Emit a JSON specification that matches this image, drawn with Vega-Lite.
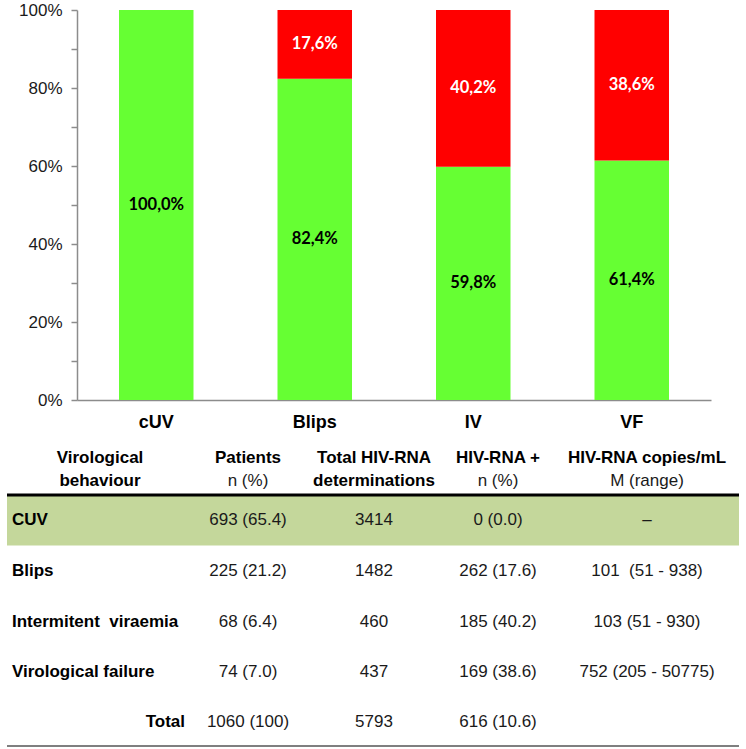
{
  "$schema": "https://vega.github.io/schema/vega-lite/v6.json",
  "autosize": "none",
  "padding": {"left": 77, "top": 10, "right": 0, "bottom": 0},
  "width": 669,
  "height": 739,
  "background": "white",
  "config": {"view": {"stroke": null}, "font": "Liberation Sans"},
  "datasets": {
    "bars": [
      {"cat": "cUV", "status": "negative", "pct": 100.0, "label": "100,0%"},
      {"cat": "Blips", "status": "negative", "pct": 82.4, "label": "82,4%"},
      {"cat": "Blips", "status": "positive", "pct": 17.6, "label": "17,6%"},
      {"cat": "IV", "status": "negative", "pct": 59.8, "label": "59,8%"},
      {"cat": "IV", "status": "positive", "pct": 40.2, "label": "40,2%"},
      {"cat": "VF", "status": "negative", "pct": 61.4, "label": "61,4%"},
      {"cat": "VF", "status": "positive", "pct": 38.6, "label": "38,6%"}
    ],
    "header": [
      {"col": 1, "row": 0, "text": "Virological"},
      {"col": 1, "row": 1, "text": "behaviour"},
      {"col": 2, "row": 0, "text": "Patients"},
      {"col": 3, "row": 0, "text": "Total HIV-RNA"},
      {"col": 3, "row": 1, "text": "determinations"},
      {"col": 4, "row": 0, "text": "HIV-RNA +"},
      {"col": 5, "row": 0, "text": "HIV-RNA copies/mL"}
    ],
    "subheader": [
      {"col": 2, "row": 1, "text": "n (%)"},
      {"col": 4, "row": 1, "text": "n (%)"},
      {"col": 5, "row": 1, "text": "M (range)"}
    ],
    "rowlabels": [
      {"col": 0, "row": 3, "text": "CUV"},
      {"col": 0, "row": 4, "text": "Blips"},
      {"col": 0, "row": 5, "text": "Intermitent\u00a0 viraemia"},
      {"col": 0, "row": 6, "text": "Virological failure"}
    ],
    "totallabel": [
      {"col": 2, "row": 7, "text": "Total"}
    ],
    "cells": [
      {"col": 2, "row": 3, "text": "693 (65.4)"},
      {"col": 3, "row": 3, "text": "3414"},
      {"col": 4, "row": 3, "text": "0 (0.0)"},
      {"col": 5, "row": 3, "text": "–"},
      {"col": 2, "row": 4, "text": "225 (21.2)"},
      {"col": 3, "row": 4, "text": "1482"},
      {"col": 4, "row": 4, "text": "262 (17.6)"},
      {"col": 5, "row": 4, "text": "101\u00a0 (51 - 938)"},
      {"col": 2, "row": 5, "text": "68 (6.4)"},
      {"col": 3, "row": 5, "text": "460"},
      {"col": 4, "row": 5, "text": "185 (40.2)"},
      {"col": 5, "row": 5, "text": "103 (51 - 930)"},
      {"col": 2, "row": 6, "text": "74 (7.0)"},
      {"col": 3, "row": 6, "text": "437"},
      {"col": 4, "row": 6, "text": "169 (38.6)"},
      {"col": 5, "row": 6, "text": "752 (205 - 50775)"},
      {"col": 2, "row": 7, "text": "1060 (100)"},
      {"col": 3, "row": 7, "text": "5793"},
      {"col": 4, "row": 7, "text": "616 (10.6)"}
    ]
  },
  "layer": [
    {
      "data": {"name": "bars"},
      "encoding": {
        "x": {
          "field": "cat",
          "type": "nominal",
          "sort": ["cUV", "Blips", "IV", "VF"],
          "scale": {"domain": ["cUV", "Blips", "IV", "VF"], "range": [0, 634], "paddingInner": 0.53, "paddingOuter": 0.265},
          "axis": {
            "title": null,
            "orient": "bottom",
            "offset": -349,
            "ticks": false,
            "domainColor": "#8c8c8c",
            "domainWidth": 1.5,
            "labelFontSize": 18,
            "labelFontWeight": "bold",
            "labelColor": "#000000",
            "labelPadding": 13,
            "labelAngle": 0
          }
        },
        "y": {
          "field": "pct",
          "type": "quantitative",
          "scale": {"domain": [0, 100], "range": [390, 0], "nice": false},
          "axis": {
            "title": null,
            "orient": "left",
            "values": [0, 10, 20, 30, 40, 50, 60, 70, 80, 90, 100],
            "labelExpr": "datum.value % 20 === 0 ? datum.value + '%' : ''",
            "tickSize": 6,
            "tickColor": "#8c8c8c",
            "tickWidth": 1.5,
            "domainColor": "#8c8c8c",
            "domainWidth": 1.5,
            "labelFontSize": 17,
            "labelColor": "#1a1a1a",
            "labelPadding": 9,
            "labelOverlap": false,
            "grid": false
          }
        }
      },
      "layer": [
        {
          "mark": {"type": "bar"},
          "encoding": {
            "y": {
              "field": "pct",
              "type": "quantitative",
              "stack": "zero",
              "scale": {"domain": [0, 100], "range": [390, 0], "nice": false},
              "axis": {
                "title": null,
                "orient": "left",
                "values": [0, 10, 20, 30, 40, 50, 60, 70, 80, 90, 100],
                "labelExpr": "datum.value % 20 === 0 ? datum.value + '%' : ''",
                "tickSize": 6,
                "tickColor": "#8c8c8c",
                "tickWidth": 1.5,
                "domainColor": "#8c8c8c",
                "domainWidth": 1.5,
                "labelFontSize": 17,
                "labelColor": "#1a1a1a",
                "labelPadding": 9,
                "labelOverlap": false,
                "grid": false
              }
            },
            "color": {
              "field": "status",
              "type": "nominal",
              "scale": {"domain": ["negative", "positive"], "range": ["#66ff33", "#ff0000"]},
              "legend": null
            },
            "order": {"field": "status", "sort": "ascending"}
          }
        },
        {
          "transform": [
            {"stack": "pct", "groupby": ["cat"], "sort": [{"field": "status", "order": "ascending"}], "as": ["y0", "y1"]},
            {"fold": ["y0", "y1"], "as": ["edge", "v"]},
            {"aggregate": [{"op": "mean", "field": "v", "as": "mid"}], "groupby": ["cat", "status", "label"]}
          ],
          "mark": {"type": "text", "font": "Lato", "fontWeight": "bold", "fontSize": 16.5, "baseline": "middle"},
          "encoding": {
            "y": {
              "field": "mid",
              "type": "quantitative",
              "scale": {"domain": [0, 100], "range": [390, 0], "nice": false},
              "axis": {
                "title": null,
                "orient": "left",
                "values": [0, 10, 20, 30, 40, 50, 60, 70, 80, 90, 100],
                "labelExpr": "datum.value % 20 === 0 ? datum.value + '%' : ''",
                "tickSize": 6,
                "tickColor": "#8c8c8c",
                "tickWidth": 1.5,
                "domainColor": "#8c8c8c",
                "domainWidth": 1.5,
                "labelFontSize": 17,
                "labelColor": "#1a1a1a",
                "labelPadding": 9,
                "labelOverlap": false,
                "grid": false
              }
            },
            "text": {"field": "label", "type": "nominal"},
            "color": {"condition": {"test": "datum.status === 'positive'", "value": "#ffffff"}, "value": "#000000"}
          }
        }
      ]
    },
    {
      "layer": [
        {
          "data": {"values": [{"band": "CUV"}]},
          "mark": {"type": "rect", "color": "#c4d79b"},
          "encoding": {
            "x": {"datum": 0, "type": "quantitative", "scale": {"domain": [0, 1, 2, 3, 4, 5, 6], "range": [-70, 23, 171, 297, 421, 570, 662], "zero": false, "nice": false}, "axis": null},
            "x2": {"datum": 6},
            "y": {"datum": 2, "type": "quantitative", "scale": {"domain": [0, 1, 2, 3, 4, 5, 6, 7, 8], "range": [448, 471, 485, 510, 561, 612, 662, 712, 736], "zero": false, "nice": false}, "axis": null},
            "y2": {"datum": 3.5}
          }
        },
        {
          "data": {"values": [{"line": "header"}]},
          "mark": {"type": "rule", "color": "#000000", "strokeWidth": 3},
          "encoding": {
            "x": {"datum": 0, "type": "quantitative", "scale": {"domain": [0, 1, 2, 3, 4, 5, 6], "range": [-70, 23, 171, 297, 421, 570, 662], "zero": false, "nice": false}, "axis": null},
            "x2": {"datum": 6},
            "y": {"datum": 2, "type": "quantitative", "scale": {"domain": [0, 1, 2, 3, 4, 5, 6, 7, 8], "range": [448, 471, 485, 510, 561, 612, 662, 712, 736], "zero": false, "nice": false}, "axis": null}
          }
        },
        {
          "data": {"values": [{"line": "bottom"}]},
          "mark": {"type": "rule", "color": "#7f7f7f", "strokeWidth": 2},
          "encoding": {
            "x": {"datum": 0, "type": "quantitative", "scale": {"domain": [0, 1, 2, 3, 4, 5, 6], "range": [-70, 23, 171, 297, 421, 570, 662], "zero": false, "nice": false}, "axis": null},
            "x2": {"datum": 6},
            "y": {"datum": 8, "type": "quantitative", "scale": {"domain": [0, 1, 2, 3, 4, 5, 6, 7, 8], "range": [448, 471, 485, 510, 561, 612, 662, 712, 736], "zero": false, "nice": false}, "axis": null}
          }
        },
        {
          "data": {"name": "header"},
          "mark": {"type": "text", "fontSize": 17, "fontWeight": "bold", "align": "center", "baseline": "middle", "color": "#000000"},
          "encoding": {
            "x": {"field": "col", "type": "quantitative", "scale": {"domain": [0, 1, 2, 3, 4, 5, 6], "range": [-70, 23, 171, 297, 421, 570, 662], "zero": false, "nice": false}, "axis": null},
            "y": {"field": "row", "type": "quantitative", "scale": {"domain": [0, 1, 2, 3, 4, 5, 6, 7, 8], "range": [448, 471, 485, 510, 561, 612, 662, 712, 736], "zero": false, "nice": false}, "axis": null},
            "text": {"field": "text", "type": "nominal"}
          }
        },
        {
          "data": {"name": "subheader"},
          "mark": {"type": "text", "fontSize": 17, "align": "center", "baseline": "middle", "color": "#1a1a1a"},
          "encoding": {
            "x": {"field": "col", "type": "quantitative", "scale": {"domain": [0, 1, 2, 3, 4, 5, 6], "range": [-70, 23, 171, 297, 421, 570, 662], "zero": false, "nice": false}, "axis": null},
            "y": {"field": "row", "type": "quantitative", "scale": {"domain": [0, 1, 2, 3, 4, 5, 6, 7, 8], "range": [448, 471, 485, 510, 561, 612, 662, 712, 736], "zero": false, "nice": false}, "axis": null},
            "text": {"field": "text", "type": "nominal"}
          }
        },
        {
          "data": {"name": "rowlabels"},
          "mark": {"type": "text", "fontSize": 17, "fontWeight": "bold", "align": "left", "baseline": "middle", "dx": 5, "color": "#000000"},
          "encoding": {
            "x": {"field": "col", "type": "quantitative", "scale": {"domain": [0, 1, 2, 3, 4, 5, 6], "range": [-70, 23, 171, 297, 421, 570, 662], "zero": false, "nice": false}, "axis": null},
            "y": {"field": "row", "type": "quantitative", "scale": {"domain": [0, 1, 2, 3, 4, 5, 6, 7, 8], "range": [448, 471, 485, 510, 561, 612, 662, 712, 736], "zero": false, "nice": false}, "axis": null},
            "text": {"field": "text", "type": "nominal"}
          }
        },
        {
          "data": {"name": "totallabel"},
          "mark": {"type": "text", "fontSize": 17, "fontWeight": "bold", "align": "right", "baseline": "middle", "dx": -63, "color": "#000000"},
          "encoding": {
            "x": {"field": "col", "type": "quantitative", "scale": {"domain": [0, 1, 2, 3, 4, 5, 6], "range": [-70, 23, 171, 297, 421, 570, 662], "zero": false, "nice": false}, "axis": null},
            "y": {"field": "row", "type": "quantitative", "scale": {"domain": [0, 1, 2, 3, 4, 5, 6, 7, 8], "range": [448, 471, 485, 510, 561, 612, 662, 712, 736], "zero": false, "nice": false}, "axis": null},
            "text": {"field": "text", "type": "nominal"}
          }
        },
        {
          "data": {"name": "cells"},
          "mark": {"type": "text", "fontSize": 17, "align": "center", "baseline": "middle", "color": "#1a1a1a"},
          "encoding": {
            "x": {"field": "col", "type": "quantitative", "scale": {"domain": [0, 1, 2, 3, 4, 5, 6], "range": [-70, 23, 171, 297, 421, 570, 662], "zero": false, "nice": false}, "axis": null},
            "y": {"field": "row", "type": "quantitative", "scale": {"domain": [0, 1, 2, 3, 4, 5, 6, 7, 8], "range": [448, 471, 485, 510, 561, 612, 662, 712, 736], "zero": false, "nice": false}, "axis": null},
            "text": {"field": "text", "type": "nominal"}
          }
        }
      ]
    }
  ],
  "resolve": {"scale": {"x": "independent", "y": "independent", "color": "independent"}, "axis": {"x": "independent", "y": "independent"}}
}
